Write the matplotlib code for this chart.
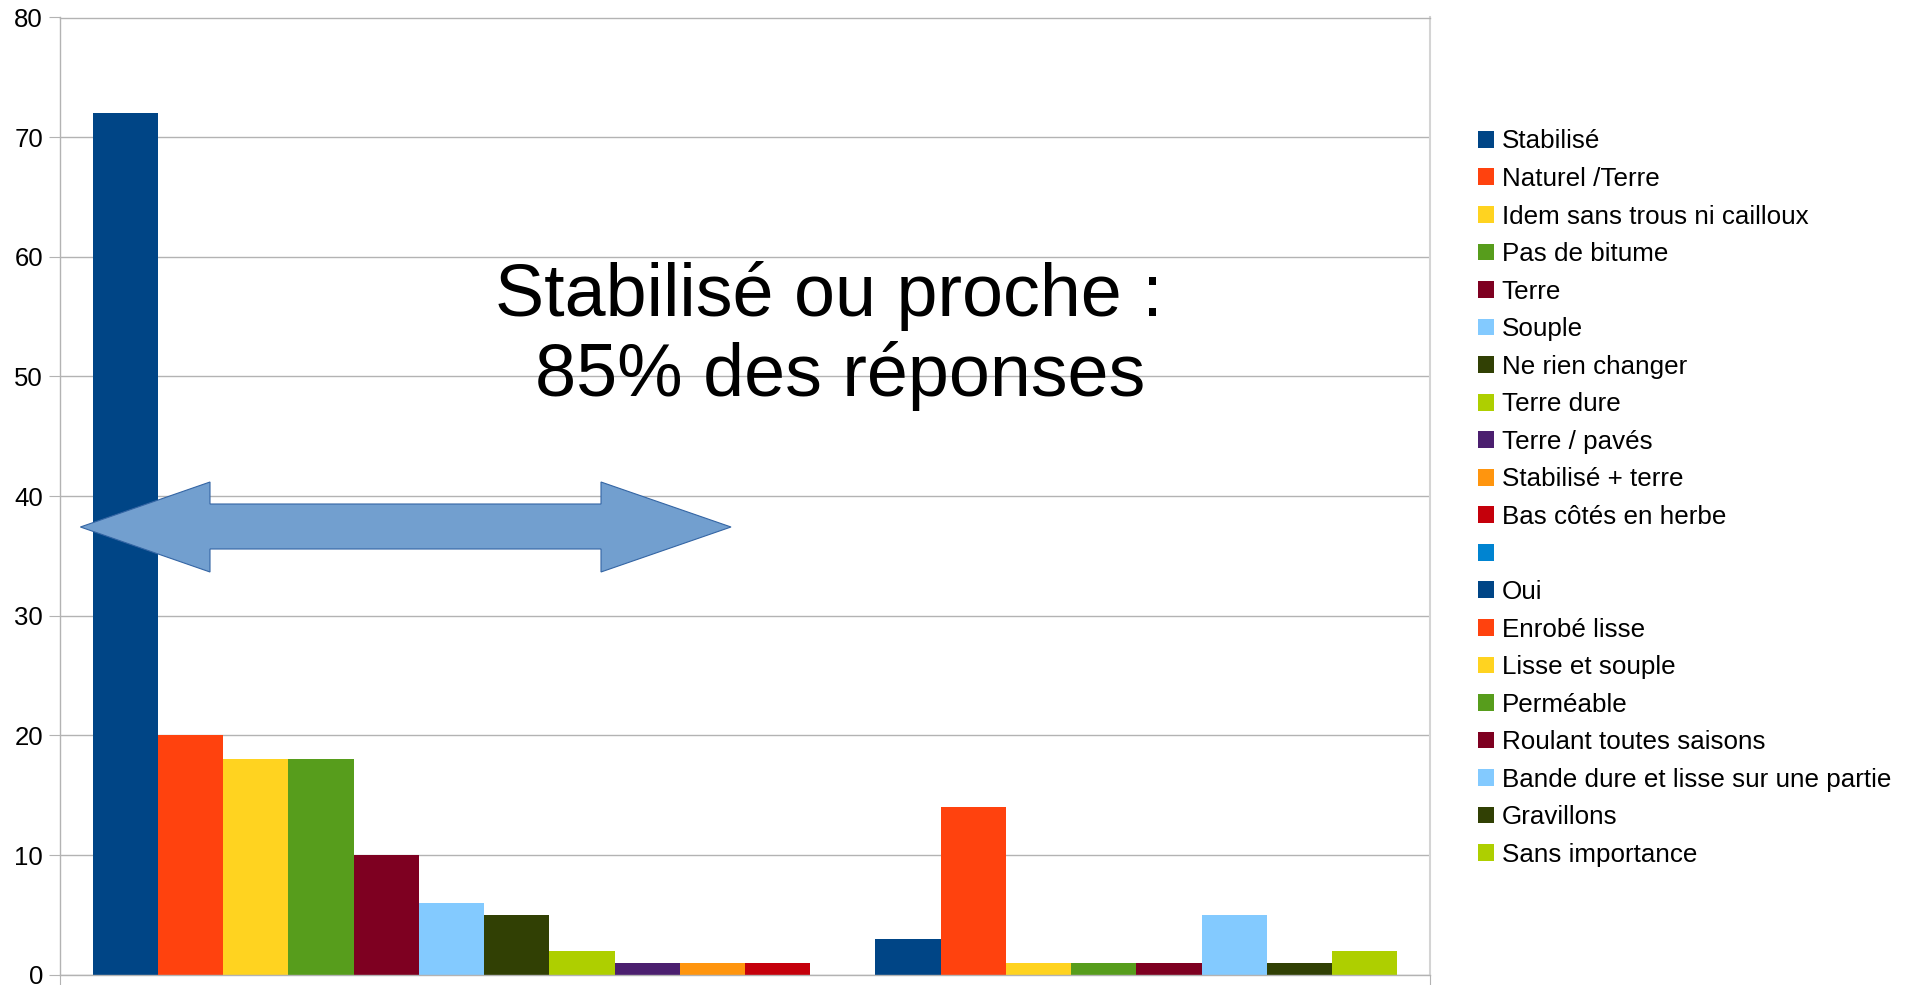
import matplotlib
matplotlib.use('Agg')
import matplotlib.pyplot as plt
from matplotlib.patches import Polygon

plt.rcParams['font.family'] = ['Liberation Sans', 'DejaVu Sans']

# ---- data ----
series_names = ["Stabilisé", "Naturel /Terre", "Idem sans trous ni cailloux", "Pas de bitume",
                "Terre", "Souple", "Ne rien changer", "Terre dure", "Terre / pavés",
                "Stabilisé + terre", "Bas côtés en herbe", "", "Oui", "Enrobé lisse",
                "Lisse et souple", "Perméable", "Roulant toutes saisons",
                "Bande dure et lisse sur une partie", "Gravillons", "Sans importance"]
series_values = [72, 20, 18, 18, 10, 6, 5, 2, 1, 1, 1, 0, 3, 14, 1, 1, 1, 5, 1, 2]
palette = ["#004586", "#ff420e", "#ffd320", "#579d1c", "#7e0021", "#83caff",
           "#314004", "#aecf00", "#4b1f6f", "#ff950e", "#c5000b", "#0084d1"]
y_ticks = [0, 10, 20, 30, 40, 50, 60, 70, 80]
annotation_lines = ["Stabilisé ou proche :", "85% des réponses"]

# ---- layout ----
W, H = 1913, 985
fig = plt.figure(figsize=(W / 100, H / 100), dpi=100)
ax_left, ax_right, ax_top, ax_bottom = 60, 1430, 17.5, 974.7
ax = fig.add_axes([ax_left / W, (H - ax_bottom) / H, (ax_right - ax_left) / W, (ax_bottom - ax_top) / H])

n = len(series_values)
w = 1.0 / (n + 1)
handles = []
for i, (name, val) in enumerate(zip(series_names, series_values)):
    xc = -0.5 + (i + 1) * w
    b = ax.bar([xc], [val], width=w, color=palette[i % len(palette)], linewidth=0, zorder=2)
    handles.append(b)

ax.set_xlim(-0.5, 0.5)
ax.set_ylim(0, 80)
ax.set_yticks(y_ticks)
ax.set_xticks([-0.5, 0.5])
ax.set_xticklabels(["", ""])
ax.grid(axis='y', color='#b3b3b3', linewidth=1.0)
ax.set_axisbelow(True)
ax.tick_params(axis='y', length=8, width=0.8, color='#b3b3b3', pad=4.3, labelsize=18.5, labelcolor='black')
ax.tick_params(axis='x', length=7, width=0.8, color='#b3b3b3')
for s in ['left', 'bottom', 'top']:
    ax.spines[s].set_color('#b3b3b3')
    ax.spines[s].set_linewidth(1.0)
ax.spines['right'].set_color('#d4d4d4')
ax.spines['right'].set_linewidth(1.5)

# ---- annotation text ----
fig.text(829 / W, 1 - 316 / H, annotation_lines[0], fontsize=53, ha='center', va='baseline')
fig.text(840 / W, 1 - 396 / H, annotation_lines[1], fontsize=53, ha='center', va='baseline')

# ---- double arrow shape ----
pts_px = [(80.4, 527), (210, 482), (210, 504), (601, 504), (601, 482), (731, 527),
          (601, 572), (601, 549), (210, 549), (210, 572)]
pts = [(x / W, 1 - y / H) for x, y in pts_px]
fig.patches.append(Polygon(pts, closed=True, facecolor='#729fcf', edgecolor='#3465a4',
                           linewidth=0.8, transform=fig.transFigure, figure=fig, zorder=5))

# ---- legend ----
fig.legend(handles, series_names, loc='upper left',
           bbox_to_anchor=(1478 / W, 1 - 129.5 / H), bbox_transform=fig.transFigure,
           frameon=False, fontsize=18.75, handlelength=0.614, handleheight=0.614,
           handletextpad=0.3, labelspacing=0.52, borderpad=0, borderaxespad=0)

fig.savefig('out.png', dpi=100)
